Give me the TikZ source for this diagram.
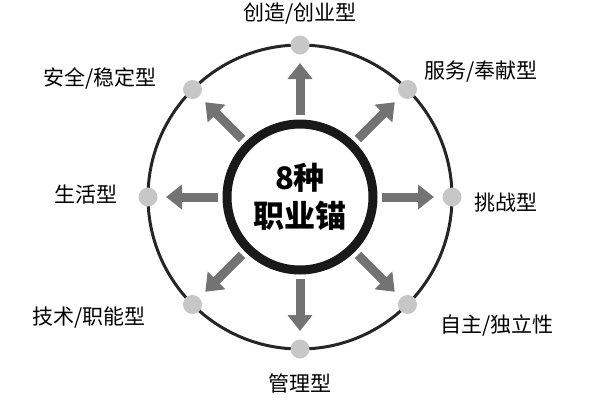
\documentclass[tikz,border=0pt]{standalone}
\usepackage{fontspec}
\setmainfont{Noto Sans CJK SC}
\usetikzlibrary{arrows.meta}
\begin{document}
\begin{tikzpicture}[x=1pt,y=-1pt,
  arr/.style={draw=gray!90!black,line width=9pt,-{Triangle[width=24pt,length=16pt]}},
  dot/.style={circle,fill=black!22,minimum size=19pt,inner sep=0pt},
  lab/.style={font=\fontsize{21}{24}\selectfont}]
\useasboundingbox (0,0) rectangle (600,400);
\coordinate (c) at (300,197);
\draw[line width=3pt,black!85] (c) circle (152);
\draw[line width=9pt,black!90] (c) circle (73);
\node[align=center,font=\bfseries\fontsize{31}{38}\selectfont] (t) at (c) {8种\\职业锚};
\foreach \a/\n in {90/a,45/b,0/r,-45/d,-90/e,-135/f,180/g,135/h}{
  \path (c) ++(-\a:82) coordinate (s\n);
  \path (c) ++(-\a:134) coordinate (e\n);
  \path (c) ++(-\a:152) node[dot] (d\n) {};
  \draw[arr] (s\n) -- (e\n);
}
\node[lab] (la) at (300,14) {创造/创业型};
\node[lab] (lb) at (481,72) {服务/奉献型};
\node[lab] (lh) at (100,78) {安全/稳定型};
\node[lab] (lg) at (86,195) {生活型};
\node[lab] (lr) at (506,203) {挑战型};
\node[lab] (lf) at (89,318) {技术/职能型};
\node[lab] (ld) at (497,325) {自主/独立性};
\node[lab] (le) at (300,383) {管理型};
\end{tikzpicture}
\end{document}
